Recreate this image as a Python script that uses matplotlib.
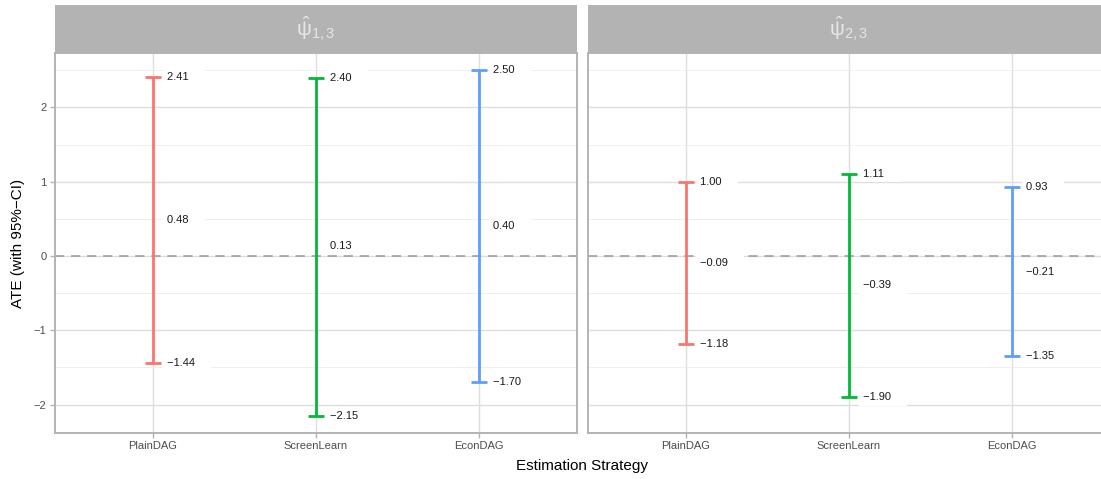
import numpy as np
import matplotlib
matplotlib.use("Agg")
import matplotlib.pyplot as plt
from matplotlib.ticker import MultipleLocator

plt.rcParams['font.family'] = ['Liberation Sans', 'DejaVu Sans']
plt.rcParams['axes.unicode_minus'] = True
plt.rcParams['mathtext.fontset'] = 'custom'
plt.rcParams['mathtext.rm'] = 'Liberation Sans'
plt.rcParams['mathtext.it'] = 'Liberation Sans'

# estimation strategies and the two estimands
strategies = ["PlainDAG", "ScreenLearn", "EconDAG"]
facets = [r"$\hat{\mathrm{\psi}}_{\mathrm{1,3}}$", r"$\hat{\mathrm{\psi}}_{\mathrm{2,3}}$"]
colours = ["#F8766D", "#00BA38", "#619CFF"]

# ATE with 95% CI per facet (rows follow strategies)
ate_13 = [0.48, 0.13, 0.40]
lo_13 = [-1.44, -2.15, -1.70]
hi_13 = [2.41, 2.40, 2.50]

ate_23 = [-0.09, -0.39, -0.21]
lo_23 = [-1.18, -1.90, -1.35]
hi_23 = [1.00, 1.11, 0.93]

panels = [(ate_13, lo_13, hi_13), (ate_23, lo_23, hi_23)]

W, H = 1101, 479
fig = plt.figure(figsize=(W / 100, H / 100), dpi=100, facecolor="white")

def fmt(v):
    return f"{v:.2f}".replace("-", "\u2212")

panel_left = [55, 588]
panel_w = 522
top, bottom = 53, 433
strip_top = 5

grey70 = "#b3b3b3"
for k, (ate, lo, hi) in enumerate(panels):
    ax = fig.add_axes([panel_left[k] / W, (H - bottom) / H, panel_w / W, (bottom - top) / H])
    xs = np.arange(1, len(strategies) + 1)

    ax.set_xlim(0.4, 3.6)
    ax.set_ylim(-2.3825, 2.7325)
    ax.yaxis.set_major_locator(MultipleLocator(1))
    ax.yaxis.set_minor_locator(MultipleLocator(0.5))
    ax.set_xticks(xs)
    ax.set_xticklabels(strategies)
    ax.grid(True, which="major", color="#dedede", lw=1.0, zorder=0)
    ax.grid(True, which="minor", axis="y", color="#ececec", lw=0.6, zorder=0)
    ax.set_axisbelow(True)

    ax.axhline(0, color="#999999", lw=1.1, ls=(0, (6, 4.5)), zorder=1)

    for i in range(len(strategies)):
        ax.errorbar(xs[i], ate[i], yerr=[[ate[i] - lo[i]], [hi[i] - ate[i]]],
                    fmt="none", ecolor=colours[i], elinewidth=2.0,
                    capsize=5.8, capthick=2.0, zorder=3)
        for v in (hi[i], ate[i], lo[i]):
            ax.annotate(fmt(v) + "    ", (xs[i], v), xytext=(10, 0),
                        textcoords="offset points", ha="left", va="center",
                        fontsize=8, color="#1a1a1a", zorder=4,
                        bbox=dict(boxstyle="square,pad=0.35", fc="white", ec="none"))

    for s in ax.spines.values():
        s.set_color(grey70)
        s.set_linewidth(1.4)
    ax.tick_params(axis="both", which="both", color=grey70, labelcolor="#4d4d4d",
                   labelsize=8, length=3.6, width=1.0, pad=2.5)
    ax.tick_params(axis="y", which="minor", length=0)
    if k == 0:
        ax.set_ylabel("ATE (with 95%\u2212CI)", fontsize=11, color="black", labelpad=6)
    else:
        ax.tick_params(axis="y", which="both", left=False, labelleft=False)

    # facet strip
    sax = fig.add_axes([panel_left[k] / W, (H - top) / H, panel_w / W, (top - strip_top) / H])
    sax.set_facecolor(grey70)
    sax.set_xticks([])
    sax.set_yticks([])
    for s in sax.spines.values():
        s.set_visible(False)
    sax.text(0.5, 0.5, facets[k], ha="center", va="center", fontsize=15,
             color="#e6e6e6", transform=sax.transAxes)

fig.text(582.5 / W, (H - 466) / H, "Estimation Strategy", ha="center", va="center",
         fontsize=11, color="black")

fig.savefig("out.png", dpi=100, facecolor="white")
